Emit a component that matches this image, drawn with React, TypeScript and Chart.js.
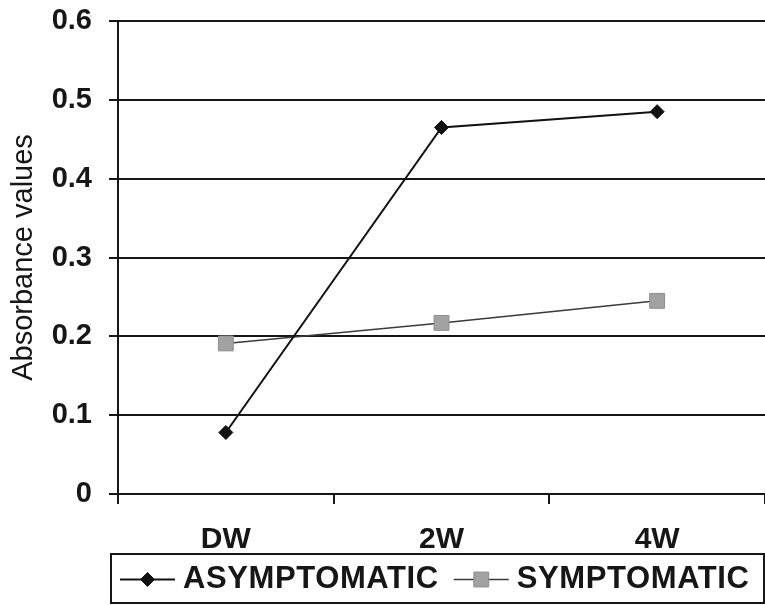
import React, { useEffect, useRef } from "react";
import { Chart, registerables } from "chart.js";

Chart.register(...registerables);

// Sampling points and series
const categories = ["DW", "2W", "4W"];
const asymptomatic = [0.078, 0.465, 0.485];
const symptomatic = [0.191, 0.217, 0.245];
const seriesLabels = ["ASYMPTOMATIC", "SYMPTOMATIC"];
const yAxisTitle = "Absorbance values";

const FONT = "'Liberation Sans', Arial, Helvetica, sans-serif";
const INK = "#161616";

// Boxed legend beneath the axis, each entry drawn as a line sample with its marker
const boxedLegend = {
  id: "boxedLegend",
  afterDraw(chart: any) {
    const { ctx, chartArea } = chart;
    const top = chartArea.bottom + 60;
    const left = 111;
    const right = chart.width - 1;
    const bottom = chart.height - 2;
    ctx.save();
    ctx.strokeStyle = INK;
    ctx.lineWidth = 2;
    ctx.strokeRect(left, top, right - left, bottom - top);

    const midY = (top + bottom) / 2 + 1;
    ctx.font = `bold 31px ${FONT}`;
    ctx.textBaseline = "middle";
    ctx.textAlign = "left";
    if ("letterSpacing" in ctx) (ctx as any).letterSpacing = "0.6px";
    let x = left + 9;
    chart.data.datasets.forEach((ds: any) => {
      const lineLen = 55;
      ctx.strokeStyle = ds.borderColor;
      ctx.lineWidth = ds.borderWidth;
      ctx.beginPath();
      ctx.moveTo(x, midY);
      ctx.lineTo(x + lineLen, midY);
      ctx.stroke();
      const cx = x + lineLen / 2;
      const r = ds.pointRadius;
      ctx.fillStyle = ds.pointBackgroundColor;
      ctx.strokeStyle = ds.pointBorderColor;
      ctx.lineWidth = 1;
      ctx.beginPath();
      if (ds.pointStyle === "rectRot") {
        ctx.moveTo(cx, midY - r);
        ctx.lineTo(cx + r, midY);
        ctx.lineTo(cx, midY + r);
        ctx.lineTo(cx - r, midY);
        ctx.closePath();
      } else {
        const h = Math.SQRT1_2 * r;
        ctx.rect(cx - h, midY - h, 2 * h, 2 * h);
      }
      ctx.fill();
      ctx.stroke();
      x += lineLen + 8;
      ctx.fillStyle = INK;
      ctx.fillText(ds.label, x, midY);
      x += ctx.measureText(ds.label).width + 15;
    });
    ctx.restore();
  },
};

export default function App() {
  const canvasRef = useRef<HTMLCanvasElement | null>(null);

  useEffect(() => {
    document.body.style.margin = "0";
    const canvas = canvasRef.current;
    if (!canvas) return;
    const chart = new Chart(canvas, {
      type: "line",
      data: {
        labels: categories,
        datasets: [
          {
            label: seriesLabels[0],
            data: asymptomatic,
            borderColor: "#111111",
            borderWidth: 2,
            pointStyle: "rectRot",
            pointRadius: 7,
            pointHoverRadius: 7,
            pointBackgroundColor: "#111111",
            pointBorderColor: "#111111",
            pointBorderWidth: 1,
            tension: 0,
            fill: false,
          },
          {
            label: seriesLabels[1],
            data: symptomatic,
            borderColor: "#3a3a3a",
            borderWidth: 1.5,
            pointStyle: "rect",
            pointRadius: 10.5,
            pointHoverRadius: 10.5,
            pointBackgroundColor: "#a2a2a2",
            pointBorderColor: "#8c8c8c",
            pointBorderWidth: 1,
            tension: 0,
            fill: false,
          },
        ],
      },
      options: {
        responsive: false,
        animation: false,
        devicePixelRatio: 1,
        layout: { autoPadding: false, padding: { top: 21, right: 0, bottom: 51, left: 0 } },
        plugins: {
          legend: { display: false },
          tooltip: { enabled: false },
        },
        scales: {
          x: {
            type: "category",
            offset: true,
            grid: {
              display: true,
              drawOnChartArea: false,
              drawTicks: true,
              tickLength: 10,
              offset: true,
              color: INK,
              lineWidth: 2,
            },
            border: { display: true, color: INK, width: 2 },
            ticks: {
              color: INK,
              padding: 18,
              maxRotation: 0,
              font: { family: FONT, size: 30, weight: "bold" },
            },
            afterFit(scale: any) {
              scale.height = 60;
              scale.paddingLeft = 0;
              scale.paddingRight = 0;
            },
          },
          y: {
            min: 0,
            max: 0.6,
            grid: {
              color: INK,
              lineWidth: 2,
              drawTicks: true,
              tickLength: 9,
            },
            border: { display: true, color: INK, width: 2 },
            ticks: {
              stepSize: 0.1,
              color: INK,
              padding: 17,
              font: { family: FONT, size: 29, weight: "bold" },
              callback: (v: any) => (Number(v) === 0 ? "0" : Number(v).toFixed(1)),
            },
            title: {
              display: true,
              text: yAxisTitle,
              color: INK,
              padding: { top: 7, bottom: 0 },
              font: { family: FONT, size: 29, weight: "normal" },
            },
            afterFit(scale: any) {
              scale.width = 118;
              scale.paddingTop = 0;
              scale.paddingBottom = 0;
            },
          },
        },
      },
      plugins: [boxedLegend],
    });
    return () => chart.destroy();
  }, []);

  return (
    <div style={{ position: "absolute", left: 0, top: 0, width: 765, height: 605, background: "#fff" }}>
      <canvas ref={canvasRef} width={765} height={605} />
    </div>
  );
}
